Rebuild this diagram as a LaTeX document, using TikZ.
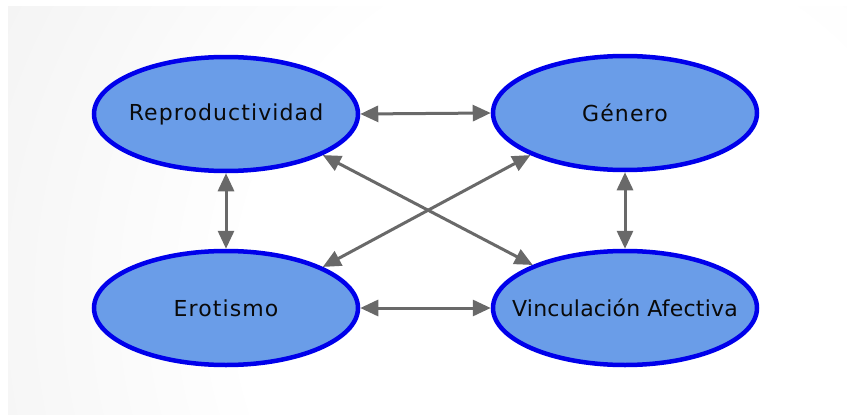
\documentclass[tikz,border=0pt]{standalone}
\usepackage{fontspec}
\setmainfont{DejaVu Sans}[LetterSpace=5]
\usetikzlibrary{arrows.meta,shapes.geometric}
\definecolor{ellfill}{RGB}{106,157,232}
\definecolor{ellline}{RGB}{0,0,235}
\definecolor{arrgray}{RGB}{105,105,105}
\definecolor{bggray}{RGB}{216,216,216}
\definecolor{txt}{RGB}{10,10,10}
\pgfdeclareradialshading{bgshade}{\pgfpoint{0bp}{0bp}}{color(0bp)=(white); color(12bp)=(white); color(50bp)=(bggray)}
\newcommand{\elltext}[1]{\makebox[0pt][c]{#1}}
\tikzset{
  ell/.style={ellipse, draw=ellline, line width=4.5pt, fill=ellfill,
    minimum width=264pt, minimum height=114pt, inner sep=0pt,
    text=txt, font=\fontsize{22}{24}\selectfont},
  conn/.style={draw=arrgray, line width=3pt,
    {Triangle[length=18pt,width=16pt]}-{Triangle[length=18pt,width=16pt]}}
}
\begin{document}
\begin{tikzpicture}[x=1pt,y=-1pt]
\useasboundingbox (0,0) rectangle (847,415);
\fill[white] (0,0) rectangle (847,415);
\begin{scope}
\clip (8,6) rectangle (847,415);
\shade[shading=bgshade] (590-720,300-720) rectangle (590+720,300+720);
\end{scope}
\node[ell] (r) at (226,114) {\elltext{Reproductividad}};
\node[ell] (g) at (625,113) {\elltext{Género}};
\node[ell] (e) at (226,308) {\elltext{Erotismo}};
\node[ell] (v) at (625,308) {\elltext{\addfontfeature{LetterSpace=1}Vinculación Afectiva}};
\draw[conn] (r.east) -- (g.west);
\draw[conn] (e.east) -- (v.west);
\draw[conn] (r.south) -- (e.north);
\draw[conn] (g.south) -- (v.north);
\draw[conn] (r.-23.6) -- (v.155.2);
\draw[conn] (g.204.5) -- (e.23.9);
\end{tikzpicture}
\end{document}
